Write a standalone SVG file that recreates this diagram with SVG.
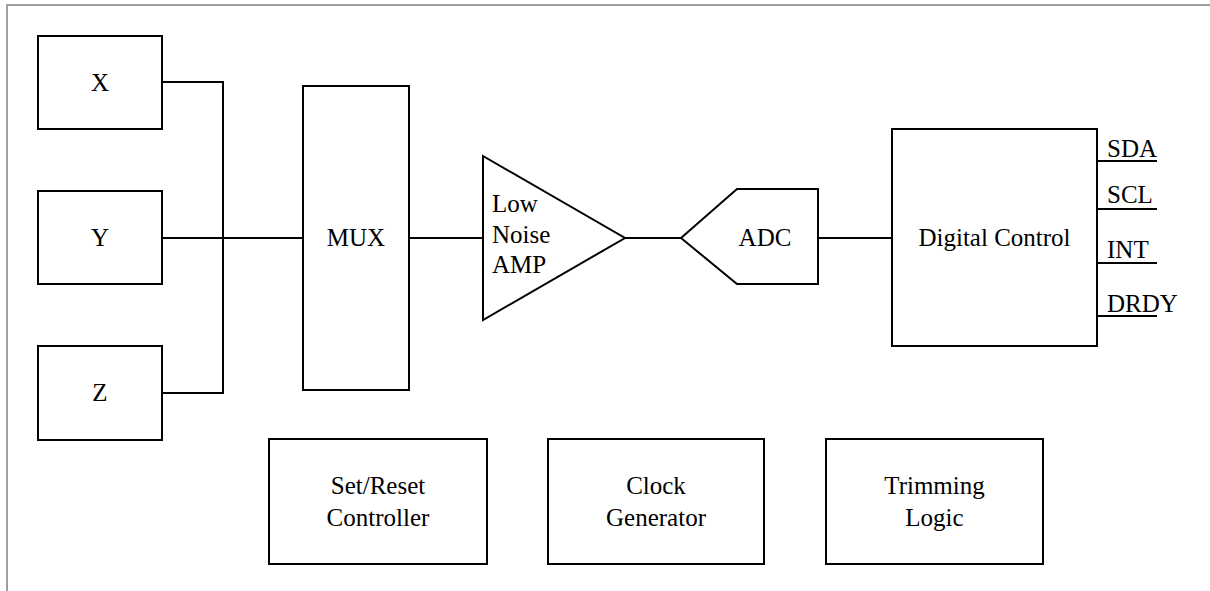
<svg xmlns="http://www.w3.org/2000/svg" width="1210" height="591" viewBox="0 0 1210 591">
<style>
.s{fill:#fff;stroke:#000;stroke-width:2}
.w{fill:none;stroke:#000;stroke-width:2}
</style>
<rect width="1210" height="591" fill="#fff"/>
<polyline points="7,591 7,5 1210,5" fill="none" stroke="#808080" stroke-width="1.5"/>
<g id="connectors">
<polyline class="w" points="162,82 223,82 223,393 162,393"/>
<line class="w" x1="162" y1="238" x2="303" y2="238"/>
<line class="w" x1="409" y1="238" x2="483" y2="238"/>
<line class="w" x1="625" y1="238" x2="681" y2="238"/>
<line class="w" x1="818" y1="238" x2="892" y2="238"/>
<line class="w" x1="1097" y1="161" x2="1157" y2="161"/>
<line class="w" x1="1097" y1="209" x2="1157" y2="209"/>
<line class="w" x1="1097" y1="263" x2="1157" y2="263"/>
<line class="w" x1="1097" y1="316" x2="1157" y2="316"/>
</g>
<g font-family="Liberation Serif" font-size="25" fill="#000">
<g id="x"><rect class="s" x="38" y="36" width="124" height="93"/><text text-anchor="middle" x="100" y="91">X</text></g>
<g id="y"><rect class="s" x="38" y="191" width="124" height="93"/><text text-anchor="middle" x="100" y="246">Y</text></g>
<g id="z"><rect class="s" x="38" y="346" width="124" height="94"/><text text-anchor="middle" x="100" y="401">Z</text></g>
<g id="mux"><rect class="s" x="303" y="86" width="106" height="304"/><text text-anchor="middle" x="356" y="246">MUX</text></g>
<g id="amp"><polygon class="s" points="483,156 625,238 483,320"/>
<text x="492" y="212">Low</text><text x="492" y="243">Noise</text><text x="492" y="273">AMP</text></g>
<g id="adc"><polygon class="s" points="681,238 737,189 818,189 818,284 737,284"/><text text-anchor="middle" x="765" y="246">ADC</text></g>
<g id="digital"><rect class="s" x="892" y="129" width="205" height="217"/><text text-anchor="middle" x="994.5" y="246">Digital Control</text></g>
<g id="pins">
<text x="1107" y="157">SDA</text>
<text x="1107" y="203">SCL</text>
<text x="1107" y="258">INT</text>
<text x="1107" y="312">DRDY</text>
</g>
<g id="setreset"><rect class="s" x="269" y="439" width="218" height="125"/><text text-anchor="middle" x="378" y="494">Set/Reset</text><text text-anchor="middle" x="378" y="526">Controller</text></g>
<g id="clock"><rect class="s" x="548" y="439" width="216" height="125"/><text text-anchor="middle" x="656" y="494">Clock</text><text text-anchor="middle" x="656" y="526">Generator</text></g>
<g id="trim"><rect class="s" x="826" y="439" width="217" height="125"/><text text-anchor="middle" x="934.5" y="494">Trimming</text><text text-anchor="middle" x="934.5" y="526">Logic</text></g>
</g>
</svg>
